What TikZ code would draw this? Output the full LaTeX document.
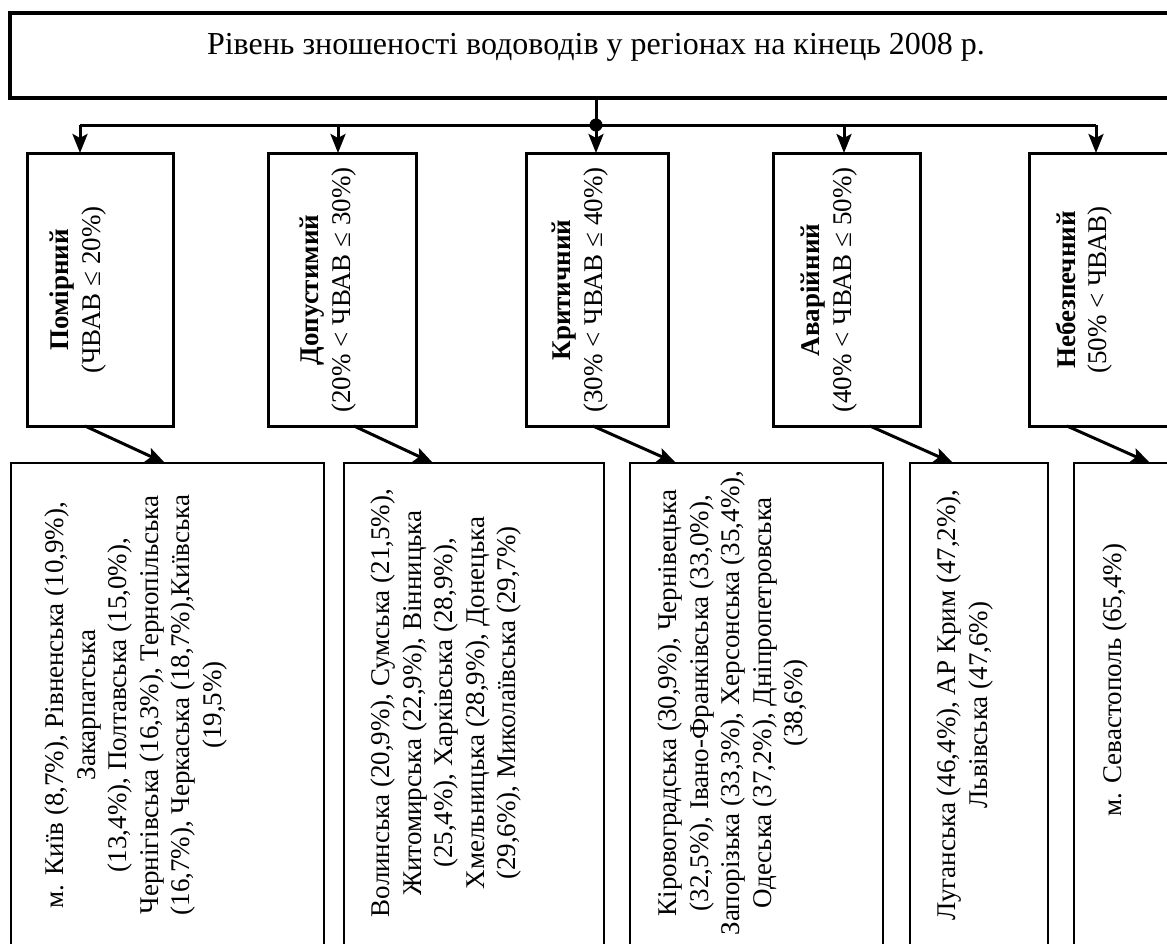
\documentclass[tikz,border=0pt]{standalone}
\usepackage{fontspec}
\setmainfont{Liberation Serif}
\usetikzlibrary{arrows.meta,fit,calc}

\begin{document}
\begin{tikzpicture}[x=0.5pt,y=-0.5pt,
  titlebox/.style={draw, line width=2pt, inner sep=0pt, outer sep=0pt},
  levelbox/.style={draw, line width=1.5pt, inner sep=0pt, outer sep=0pt},
  listbox/.style={draw, line width=1.25pt, inner sep=0pt, outer sep=0pt},
  boxtext/.style={rotate=90, align=center, inner sep=0pt,
    font=\fontsize{13.5}{15.75}\selectfont},
  wire/.style={line width=1.5pt},
  conn/.style={line width=1.5pt, -{Stealth[length=9.5pt,width=7.5pt,inset=2pt]}},
]
\useasboundingbox (0,0) rectangle (1167,943);
\clip (0,0) rectangle (1167,943);

% heading
\node[titlebox, fit={(10,13) (1200,98)}] (title) {};
\node[anchor=base, inner sep=0pt, font=\fontsize{16}{19}\selectfont] (titletext) at (596,54)
  {Рівень зношеності водоводів у регіонах на кінець 2008 р.};

% level boxes
\node[levelbox, fit={(27,153) (173,426)}] (l1) {};
\node[levelbox, fit={(268,153) (416,426)}] (l2) {};
\node[levelbox, fit={(526,153) (668,426)}] (l3) {};
\node[levelbox, fit={(773,153) (920,426)}] (l4) {};
\node[levelbox, fit={(1029,153) (1229,426)}] (l5) {};

\node[boxtext] (l1t) at (78,290) {\textbf{Помірний}\\(ЧВАВ ≤ 20\%)};
\node[boxtext] (l2t) at (328,290) {\textbf{Допустимий}\\(20\% < ЧВАВ ≤ 30\%)};
\node[boxtext] (l3t) at (580,290) {\textbf{Критичний}\\(30\% < ЧВАВ ≤ 40\%)};
\node[boxtext] (l4t) at (829,290) {\textbf{Аварійний}\\(40\% < ЧВАВ ≤ 50\%)};
\node[boxtext] (l5t) at (1084,290) {\textbf{Небезпечний}\\(50\% < ЧВАВ)};

% region lists
\node[listbox, fit={(11,463) (324,960)}] (s1) {};
\node[listbox, fit={(344,463) (604,960)}] (s2) {};
\node[listbox, fit={(630,463) (883,960)}] (s3) {};
\node[listbox, fit={(910,463) (1048,960)}] (s4) {};
\node[listbox, fit={(1074,463) (1274,960)}] (s5) {};

\node[boxtext] (s1t) at (136,705) {м. Київ (8,7\%), Рівненська (10,9\%),\\Закарпатська\\(13,4\%), Полтавська (15,0\%),\\Чернігівська (16,3\%), Тернопільська\\(16,7\%), Черкаська (18,7\%),Київська\\(19,5\%)};
\node[boxtext] (s2t) at (446,703) {Волинська (20,9\%), Сумська (21,5\%),\\Житомирська (22,9\%), Вінницька\\(25,4\%), Харківська (28,9\%),\\Хмельницька (28,9\%), Донецька\\(29,6\%), Миколаївська (29,7\%)};
\node[boxtext] (s3t) at (733,703) {Кіровоградська (30,9\%), Чернівецька\\(32,5\%), Івано-Франківська (33,0\%),\\Запорізька (33,3\%), Херсонська (35,4\%),\\Одеська (37,2\%), Дніпропетровська\\(38,6\%)};
\node[boxtext] (s4t) at (965,705) {Луганська (46,4\%), АР Крим (47,2\%),\\Львівська (47,6\%)};
\node[boxtext] (s5t) at (1115,680) {м. Севастополь (65,4\%)};

% distribution bus
\node[circle, fill, inner sep=0pt, minimum size=6.5pt] (hub) at (596,125) {};
\coordinate (b1) at (80,125);
\coordinate (b2) at (338,125);
\coordinate (b4) at (844,125);
\coordinate (b5) at (1096,125);
\draw[wire] (title.south -| hub) -- (hub.center);
\draw[wire] (b1) -- (b5);
\draw[conn] (b1) -- (b1 |- l1.north);
\draw[conn] (b2) -- (b2 |- l2.north);
\draw[conn] (hub.center) -- (hub.center |- l3.north);
\draw[conn] (b4) -- (b4 |- l4.north);
\draw[conn] (b5) -- (b5 |- l5.north);

% level -> list links
\draw[conn] ($(l1.south west)+(58,0)$) -- ($(s1.north west)+(154,0)$);
\draw[conn] ($(l2.south west)+(86,0)$) -- ($(s2.north west)+(89,0)$);
\draw[conn] ($(l3.south west)+(67,0)$) -- ($(s3.north west)+(46,0)$);
\draw[conn] ($(l4.south west)+(97,0)$) -- ($(s4.north west)+(43,0)$);
\draw[conn] ($(l5.south west)+(38,0)$) -- ($(s5.north west)+(76,0)$);
\end{tikzpicture}
\end{document}
